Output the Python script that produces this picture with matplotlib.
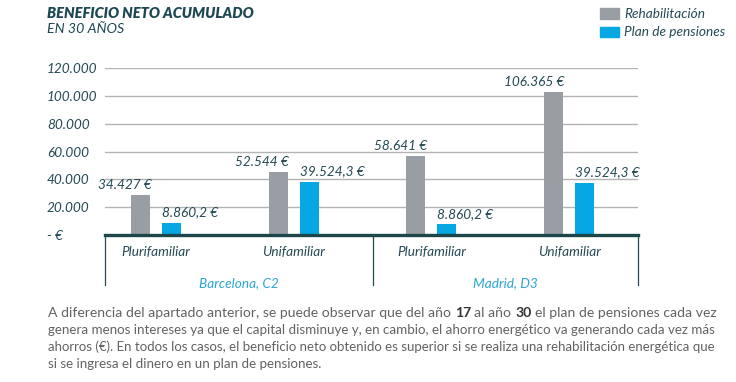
import matplotlib
matplotlib.use("Agg")
import matplotlib.pyplot as plt
from matplotlib.patches import Rectangle
from matplotlib.transforms import blended_transform_factory
import numpy as np

# data
categories = ["Plurifamiliar", "Unifamiliar", "Plurifamiliar", "Unifamiliar"]
regions = ["Barcelona, C2", "Madrid, D3"]
rehab_heights = [28800, 45500, 56900, 102900]
pension_heights = [8860.2, 38400, 8000, 37700]
rehab_labels = ["34.427 €", "52.544 €", "58.641 €", "106.365 €"]
pension_labels = ["8.860,2 €", "39.524,3 €", "8.860,2 €", "39.524,3 €"]
y_ticks = [0, 20000, 40000, 60000, 80000, 100000, 120000]
y_tick_labels = ["- €", "20.000", "40.000", "60.000", "80.000", "100.000", "120.000"]

W, H = 736, 382
DARK = "#244a55"
GRAY = "#989ea3"
BLUE = "#06a7e2"
LIGHT_BLUE = "#2aa6d6"
TEXT_GRAY = "#626262"
FONT = "Lato"


def fx(px):
    return px / W


def fy(py):
    return 1 - py / H


fig = plt.figure(figsize=(W / 100, H / 100), dpi=100)
ax = fig.add_axes([fx(105), fy(235), fx(638) - fx(105), (235 - 68.3) / H])

x = np.arange(len(categories))
off, bw = 0.113, 0.138
ax.bar(x - off, rehab_heights, bw, color=GRAY, zorder=3)
ax.bar(x + off, pension_heights, bw, color=BLUE, zorder=3)

for xi, h, lab in zip(x, rehab_heights, rehab_labels):
    ax.annotate(lab, (xi - off + bw / 2, h), xytext=(1, 3), textcoords="offset points",
                ha="right", va="bottom", fontsize=9.8, style="italic", color=DARK, family=FONT)
for xi, h, lab in zip(x, pension_heights, pension_labels):
    ax.annotate(lab, (xi + off - bw / 2, h), xytext=(0, 3), textcoords="offset points",
                ha="left", va="bottom", fontsize=9.8, style="italic", color=DARK, family=FONT)

ax.set_xlim(-0.37, 3.5)
ax.set_ylim(0, 120000)
ax.set_xticks([])
ax.set_yticks(y_ticks, y_tick_labels)
for lab in ax.get_yticklabels():
    lab.set_ha("left")
    lab.set_fontstyle("italic")
    lab.set_family(FONT)
    lab.set_fontsize(9.8)
    lab.set_color(DARK)
ax.tick_params(axis="y", length=0, pad=(105 - 47) * 0.72)
ax.grid(axis="y", color="#b4b4b4", linewidth=1, zorder=0)
for s in ax.spines.values():
    s.set_visible(False)
ax.axhline(0, color="#1d464b", linewidth=2.4, zorder=4, clip_on=False)

# category axis below the plot
tr = blended_transform_factory(ax.transData, ax.transAxes)
for sep in [-0.37, 1.574, 3.5]:
    ax.plot([sep, sep], [0, -0.30], color=DARK, linewidth=0.9, transform=tr, clip_on=False)
for xi, cat in zip(x, categories):
    ax.text(xi, -0.10, cat, transform=tr, ha="center", va="center", fontsize=9.8,
            style="italic", color=DARK, family=FONT)
for xc, reg in zip([0.60, 2.537], regions):
    ax.text(xc, -0.288, reg, transform=tr, ha="center", va="center", fontsize=9.8,
            style="italic", color=LIGHT_BLUE, family=FONT)

# title
fig.text(fx(47), fy(13), "BENEFICIO NETO ACUMULADO", ha="left", va="center", fontsize=10.5,
         weight="heavy", style="italic", color="#1d4853", family=FONT)
fig.text(fx(47), fy(29), "EN 30 AÑOS", ha="left", va="center", fontsize=10.2,
         style="italic", color="#1d4853", family=FONT)

# legend
for (y0, col, lab) in [(8.3, GRAY, "Rehabilitación"), (26.8, BLUE, "Plan de pensiones")]:
    fig.patches.append(Rectangle((fx(600), fy(y0 + 10.3)), 19 / W, 10.3 / H, color=col,
                                 transform=fig.transFigure))
    fig.text(fx(624), fy(y0 + 5.5), lab, ha="left", va="center", fontsize=9.8,
             style="italic", color=DARK, family=FONT)

# paragraph below the chart (words marked * are bold); full lines are
# stretched to the right margin by nudging the font size a little
lines = [
    "A diferencia del apartado anterior, se puede observar que del año *17 al año *30 el plan de pensiones cada vez",
    "genera menos intereses ya que el capital disminuye y, en cambio, el ahorro energético va generando cada vez más",
    "ahorros (€). En todos los casos, el beneficio neto obtenido es superior si se realiza una rehabilitación energética que",
    "si se ingresa el dinero en un plan de pensiones.",
]
line_y = [317, 334, 351, 368]  # baselines
left_px, right_px = 48, 718
base_size = 10.0
renderer = fig.canvas.get_renderer()


def text_width(s, **kw):
    t = fig.text(0, 0, s, **kw)
    w = t.get_window_extent(renderer).width
    t.remove()
    return w


def segments(line):
    segs = []
    for w in line.split(" "):
        b = w.startswith("*")
        w = w.lstrip("*")
        if segs and segs[-1][1] == b:
            segs[-1][0] += " " + w
        else:
            segs.append([w, b])
    return segs


def style(bold, size):
    kw = dict(fontsize=size, color=TEXT_GRAY, family=FONT, va="baseline", ha="left")
    if bold:
        kw.update(weight="bold", color="#333333")
    return kw


def line_width(segs, size):
    sp = text_width("x x", **style(False, size)) - text_width("xx", **style(False, size))
    return sum(text_width(s, **style(b, size)) for s, b in segs) + sp * (len(segs) - 1), sp


target = right_px - left_px
sizes = []
for line in lines[:-1]:
    segs = segments(line)
    size = base_size
    for _ in range(3):
        w, _sp = line_width(segs, size)
        size *= target / w
    sizes.append(size)
sizes.append(float(np.median(sizes)))

for line, py, size in zip(lines, line_y, sizes):
    segs = segments(line)
    _w, sp = line_width(segs, size)
    cur = left_px
    for s, b in segs:
        kw = style(b, size)
        fig.text(fx(cur), fy(py), s, **kw)
        cur += text_width(s, **kw) + sp

fig.savefig("out.png", dpi=100)
